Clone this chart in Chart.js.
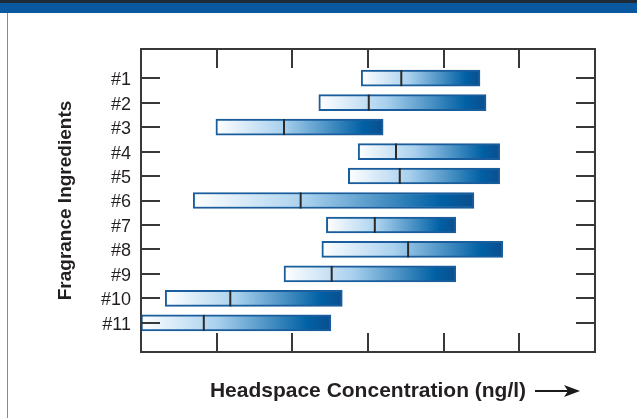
<!DOCTYPE html>
<html>
<head>
<meta charset="utf-8">
<script src="https://cdn.jsdelivr.net/npm/chart.js@4/dist/chart.umd.min.js"></script>
<style>
  html, body { margin: 0; padding: 0; background: #fff; }
  #wrap { position: relative; width: 637px; height: 418px; overflow: hidden; }
  #myChart { position: absolute; left: 0; top: 0; }
  .topline { position: absolute; left: 0; top: 0; width: 637px; height: 3px; background: #1e2a36; }
  .band { position: absolute; left: 0; top: 3px; width: 637px; height: 10px; background: #0a58a0; }
  .side { position: absolute; left: 7px; top: 13px; width: 1px; height: 405px; background: #8a8a8a; }
</style>
</head>
<body>
<div id="wrap">
  <canvas id="myChart" width="637" height="418"></canvas>
  <div class="topline"></div>
  <div class="band"></div>
  <div class="side"></div>
</div>
<script>
// data block
const ingredients = ['#1', '#2', '#3', '#4', '#5', '#6', '#7', '#8', '#9', '#10', '#11'];
const lowValues = [2.91, 2.35, 0.99, 2.87, 2.74, 0.69, 2.45, 2.39, 1.89, 0.32, 0.0];
const highValues = [4.48, 4.56, 3.20, 4.74, 4.74, 4.40, 4.16, 4.78, 4.16, 2.66, 2.51];
const midValues = [3.44, 3.01, 1.89, 3.37, 3.42, 2.11, 3.09, 3.53, 2.52, 1.18, 0.83];
const gridTicks = [1, 2, 3, 4, 5];

const rangeData = ingredients.map((name, i) => ({ x: [lowValues[i], highValues[i]], y: i + 1 }));
const midData = ingredients.map((name, i) => ({ x: midValues[i], y: i + 1 }));

// gradient for each bar, from its own left end to its right end
function barFill(context) {
    const chart = context.chart;
    const xScale = chart.scales.x;
    if (context.type !== 'data' || !xScale) return '#6fa8d8';
    const i = context.dataIndex;
    const x0 = xScale.getPixelForValue(lowValues[i]);
    const x1 = xScale.getPixelForValue(highValues[i]);
    if (!isFinite(x0) || !isFinite(x1) || x1 <= x0) return '#6fa8d8';
    const g = chart.ctx.createLinearGradient(x0, 0, x1, 0);
    g.addColorStop(0, '#ffffff');
    g.addColorStop(0.4, '#a9d1ee');
    g.addColorStop(0.88, '#0060a4');
    g.addColorStop(1, '#0b4e8e');
    return g;
}

// frame with inward ticks + arrow after the x title
const frameTicks = {
    id: 'frameTicks',
    afterDatasetsDraw(chart) {
        const {ctx, chartArea: {top, bottom, left, right}, scales: {x, y}} = chart;
        ctx.save();
        ctx.strokeStyle = '#383838';
        ctx.lineWidth = 2;
        ctx.strokeRect(left, top, right - left, bottom - top);
        const len = 19;
        ctx.beginPath();
        gridTicks.forEach(v => {
            const px = Math.round(x.getPixelForValue(v));
            ctx.moveTo(px, top); ctx.lineTo(px, top + len);
            ctx.moveTo(px, bottom); ctx.lineTo(px, bottom - len);
        });
        ingredients.forEach((name, i) => {
            const py = Math.round(y.getPixelForValue(i + 1));
            ctx.moveTo(left, py); ctx.lineTo(left + len, py);
            ctx.moveTo(right, py); ctx.lineTo(right - len, py);
        });
        ctx.stroke();

        // arrow
        const ay = 391, ax0 = right - 60, ax1 = right - 15;
        ctx.fillStyle = '#1a1a1a';
        ctx.strokeStyle = '#1a1a1a';
        ctx.lineWidth = 2;
        ctx.beginPath();
        ctx.moveTo(ax0, ay); ctx.lineTo(ax1 - 10, ay);
        ctx.stroke();
        ctx.beginPath();
        ctx.moveTo(ax1, ay);
        ctx.lineTo(ax1 - 16, ay - 6);
        ctx.lineTo(ax1 - 12, ay);
        ctx.lineTo(ax1 - 16, ay + 6);
        ctx.closePath();
        ctx.fill();
        ctx.restore();
    }
};

// config block
const config = {
    type: 'bar',
    data: {
        datasets: [{
            type: 'scatter',
            data: midData,
            pointStyle: 'line',
            rotation: 90,
            radius: 8,
            hoverRadius: 8,
            borderColor: '#2a2a2a',
            borderWidth: 2
        }, {
            type: 'bar',
            indexAxis: 'y',
            data: rangeData,
            barThickness: 16,
            backgroundColor: barFill,
            borderColor: '#1a5d9c',
            borderWidth: 2,
            borderSkipped: false
        }]
    },
    options: {
        responsive: false,
        animation: false,
        devicePixelRatio: 1,
        layout: { padding: { top: 49, right: 42, left: 0, bottom: 0 } },
        scales: {
            x: {
                type: 'linear',
                position: 'bottom',
                offset: false,
                min: 0,
                max: 6,
                grid: { display: false },
                border: { display: false },
                ticks: { display: false },
                afterFit(scale) { scale.height = 66; },
                title: {
                    display: true,
                    text: 'Headspace Concentration (ng/l)',
                    color: '#231f20',
                    font: { family: 'Liberation Sans, Arial, sans-serif', size: 21, weight: 'bold' },
                    padding: { top: 0, bottom: 14 }
                }
            },
            y: {
                type: 'linear',
                position: 'left',
                offset: false,
                reverse: true,
                min: -0.19,
                max: 12.19,
                grid: { display: false, drawTicks: false },
                border: { display: false },
                afterBuildTicks(scale) {
                    scale.ticks = ingredients.map((name, i) => ({ value: i + 1 }));
                },
                afterFit(scale) { scale.width = 141; },
                ticks: {
                    padding: 10,
                    labelOffset: 2,
                    color: '#231f20',
                    font: { family: 'Liberation Sans, Arial, sans-serif', size: 18 },
                    callback: (value) => ingredients[value - 1]
                },
                title: {
                    display: true,
                    text: 'Fragrance Ingredients',
                    color: '#231f20',
                    font: { family: 'Liberation Sans, Arial, sans-serif', size: 19, weight: 'bold' },
                    padding: { top: 54, bottom: 0 }
                }
            }
        },
        plugins: {
            legend: { display: false },
            tooltip: { enabled: false }
        }
    },
    plugins: [frameTicks]
};

// init render block
const myChart = new Chart(
    document.getElementById('myChart'),
    config
);
</script>
</body>
</html>
